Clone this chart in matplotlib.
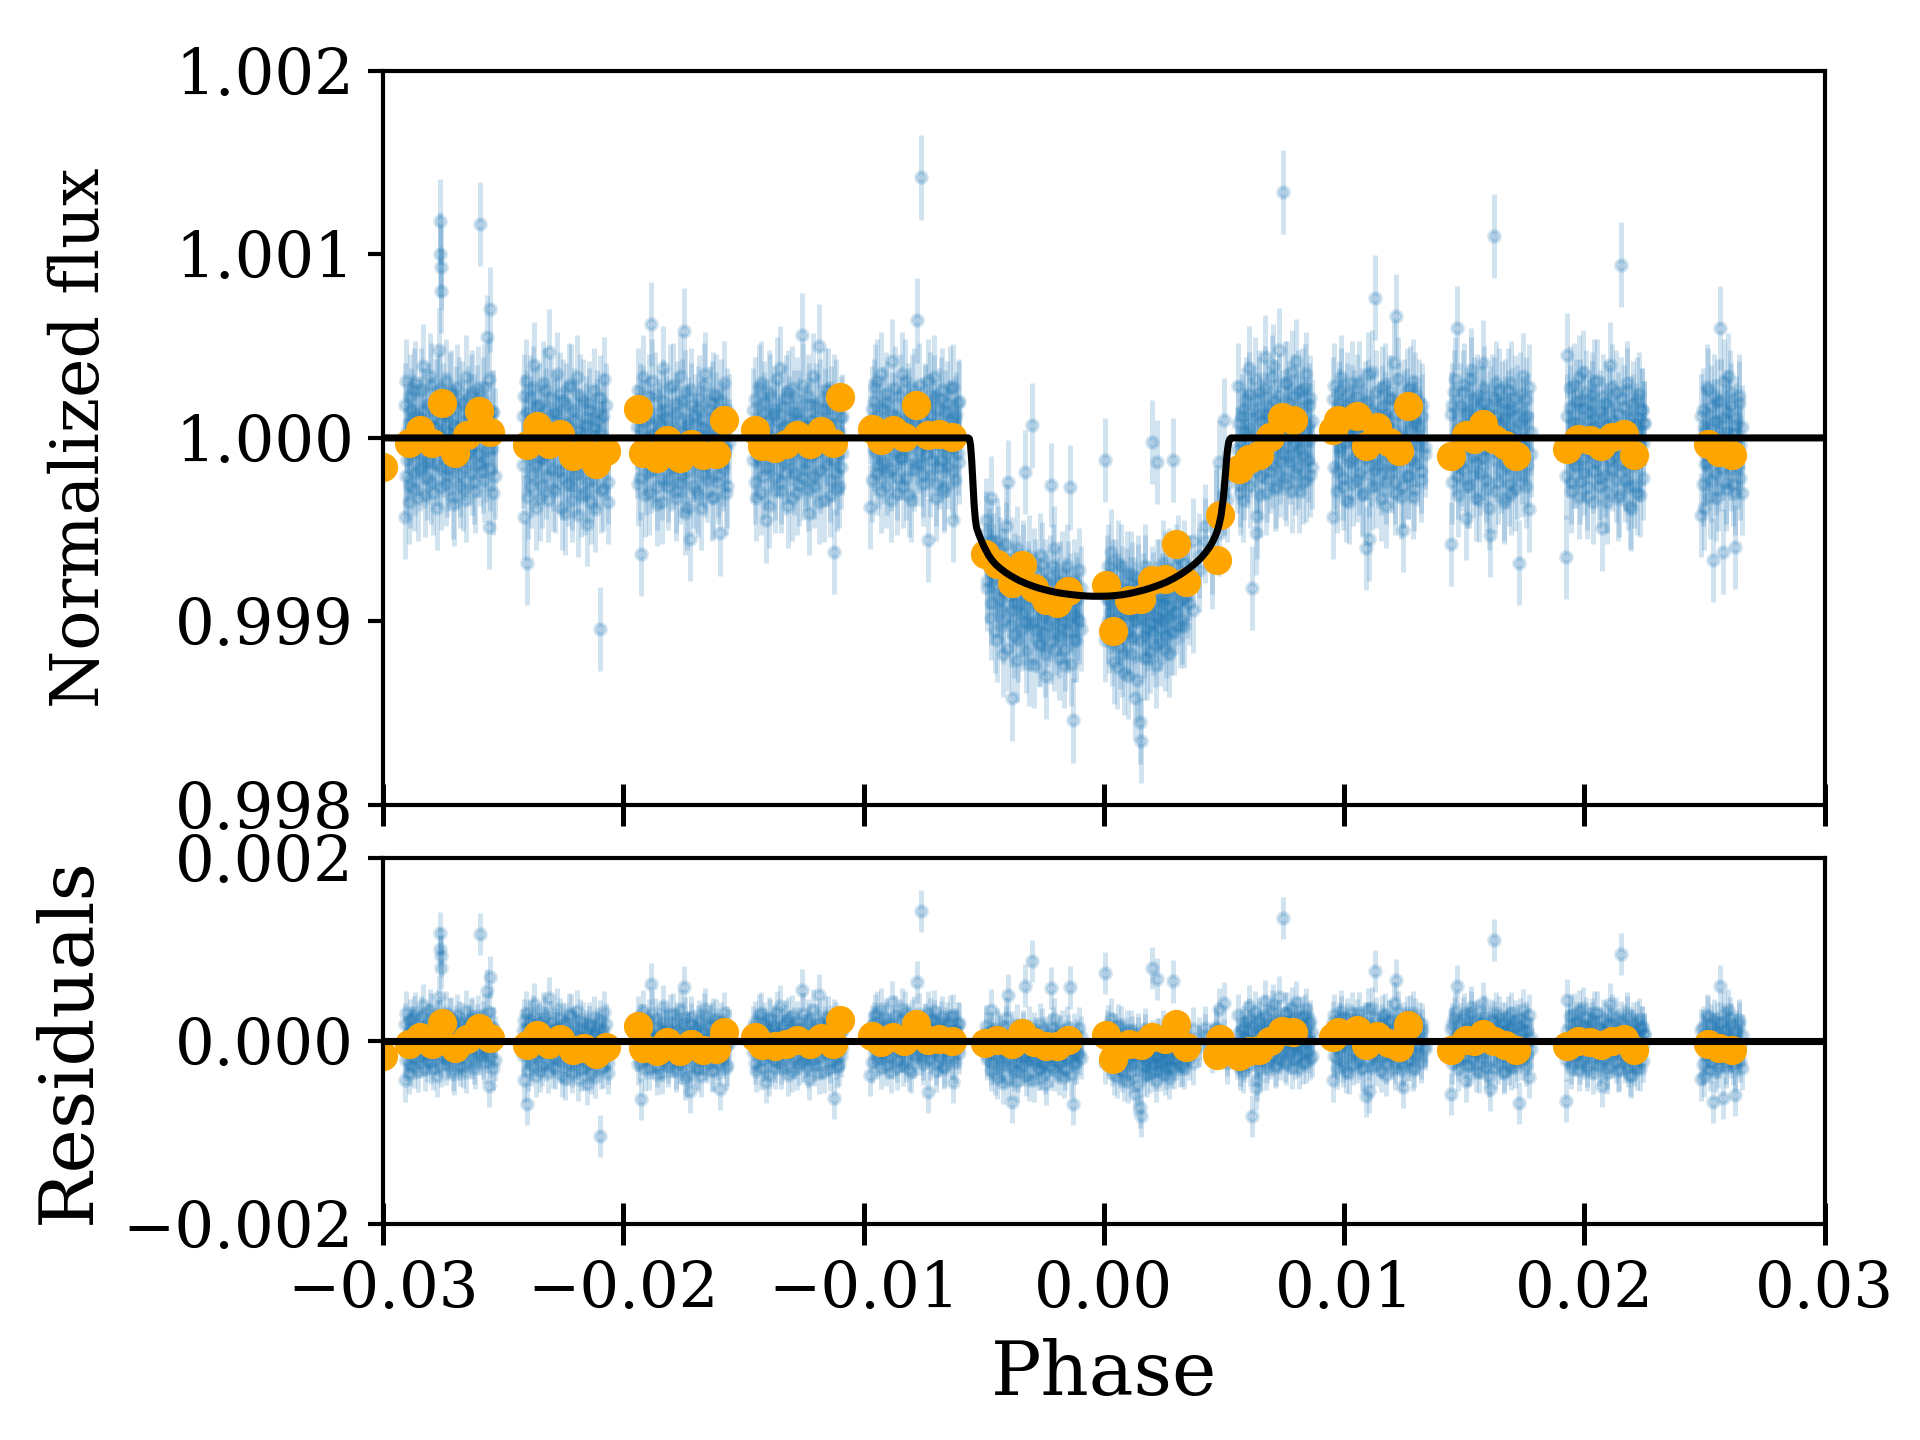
import numpy as np
import matplotlib.pyplot as plt
from matplotlib import ticker

plt.rcParams['font.family'] = 'serif'

# Phase in units of 1e-4, flux as ppm deviation from 1.
# Each phase list carries two flux readings (overlapping visits).
gA_ph = [-291, -290.5, -290, -289.4, -289, -288.3, -287.8, -287.2, -286.7, -286,
         -285.4, -284.9, -284.2, -283.6, -283, -282.5, -281.8, -281.2, -280.6, -280,
         -279.3, -278.8, -278.1, -277.5, -276.9, -276.4, -276.2, -276.0, -275.8, -275.3,
         -274.7, -274, -273.4, -272.9, -272.2, -271.6, -271, -270.5, -269.8, -269.2,
         -268.5, -268, -267.3, -266.7, -266.1, -265.5, -264.9, -264.2, -263.6, -263,
         -262.4, -261.7, -261.1, -260.5, -259.8, -259.2, -258.6, -258, -257.4, -256.8,
         -256.1, -255.5, -254.9, -254.2, -253.6]
gA_ppm = [-430, 310, -120, 80, -260, 150, -40, 260, -190, 20,
          -330, 110, -80, 390, -150, 40, -220, 180, -60, 290,
          -300, 60, -140, 220, 480, 1180, 1000, 930, 800, -90,
          130, -250, 30, -170, 240, -110, 70, -360, 160, -30,
          210, -200, 90, -280, 10, 330, -130, 120, -50, 250,
          -240, 20, 170, -90, 1165, 60, -180, 280, -120, 550,
          -486, 700, -60, 140, -210]
gA_ppm2 = [180, -210, 40, -350, 230, -90, 120, -280, 300, -60,
           90, -170, 260, -20, 150, -310, 70, -130, 340, -240,
           110, -50, 200, -380, 20, 260, -160, 90, -270, 180,
           -30, 310, -200, 130, -80, 250, -320, 60, -150, 280,
           -10, -260, 190, -110, 40, -340, 160, -70, 230, -190,
           120, -290, 50, 270, -140, 10, 210, -230, 80, -60,
           320, -170, 140, -300, 40]

gB_ph = [-241.8, -241.2, -240.6, -240, -239.6, -239, -238.4, -237.8, -237.1, -236.5,
         -235.9, -235.2, -234.6, -234, -233.3, -232.7, -232.1, -231.4, -230.8, -230.2,
         -229.5, -228.9, -228.3, -227.6, -227, -226.4, -225.7, -225.1, -224.5, -223.8,
         -223.2, -222.6, -221.9, -221.3, -220.7, -220, -219.4, -218.8, -218.1, -217.5,
         -216.9, -216.2, -215.6, -215, -214.3, -213.7, -213.1, -212.4, -211.8, -211.2,
         -210.5, -209.8, -209.2, -208.6, -207.9, -207.3, -206.6]
gB_ppm = [120, -430, 310, -683, -90, 220, -260, 60, 400, -150,
          -20, 180, -330, 90, -110, 260, -210, 30, 470, -70,
          -280, 140, -40, 350, -180, 10, -380, 200, -120, 80,
          -250, 290, -60, -340, 150, -200, 40, -420, 230, -130,
          -20, -300, 110, -470, 190, -90, -230, 60, -390, 140,
          -160, -1040, 20, -280, 320, -110, -350]
gB_ppm2 = [-150, 230, -60, 140, -320, 80, -200, 270, -30, -380,
           170, -110, 40, -260, 300, -90, 150, -340, 20, 210,
           -170, 90, -290, 130, -50, 240, -220, 60, -410, 180,
           -10, -150, 280, -270, 100, -60, 330, -190, 40, -310,
           200, -120, 70, -240, 150, -350, 10, 260, -180, 90,
           -70, 220, -290, 120, -30, 180, -240]

gC_ph = [-194.4, -193.8, -193.1, -192.5, -191.8, -191.2, -190.6, -189.9, -189.3, -188.6,
         -188, -187.3, -186.7, -186, -185.4, -184.7, -184.1, -183.4, -182.8, -182.1,
         -181.5, -180.8, -180.2, -179.5, -178.9, -178.2, -177.6, -176.9, -176.3, -175.6,
         -175, -174.7, -174.3, -173.7, -173, -172.4, -171.7, -171.1, -170.4, -169.8,
         -169.1, -168.5, -167.8, -167.2, -166.5, -165.9, -165.2, -164.6, -163.9, -163.3,
         -162.6, -162, -161.3, -160.7, -160, -159.4, -158.7, -158.1, -157.4, -156.8,
         -156.1]
gC_ppm = [60, -250, 180, -632, 330, -80, -190, 110, -300, 620,
          20, -140, 240, -360, 90, -40, -220, 380, -110, 150,
          -270, 40, -170, 290, -60, -330, 130, -20, -240, 200,
          -90, 585, -410, 70, -180, -550, 260, -120, 10, -290,
          160, -50, -380, 100, -150, 350, -230, 40, -100, 190,
          -320, -10, 230, -200, -520, 80, -140, 300, -60, -260,
          120]
gC_ppm2 = [-100, 260, -220, 50, 170, -310, 90, -40, 230, -180,
           310, -120, 20, -270, 140, 70, -350, 200, -60, 110,
           -230, 280, -10, -160, 60, -290, 190, -90, 340, -200,
           30, -130, 250, -380, 100, -50, 180, -260, 120, -10,
           -310, 220, -140, 60, 290, -200, 10, -90, 160, -330,
           240, -60, 130, -240, 40, 200, -170, 80, -300, 150,
           -20]

gD_ph = [-146, -145.3, -144.7, -144, -143.4, -142.7, -142.1, -141.4, -140.8, -140.1,
         -139.5, -138.8, -138.2, -137.5, -136.9, -136.2, -135.6, -134.9, -134.3, -133.6,
         -133, -132.3, -131.7, -131, -130.4, -129.7, -129.1, -128.4, -127.8, -127.1,
         -126.5, -125.8, -125.2, -124.5, -123.9, -123.2, -122.6, -121.9, -121.3, -120.6,
         -120, -119.3, -118.7, -118, -117.4, -116.7, -116.1, -115.4, -114.8, -114.1,
         -113.5, -112.8, -112.2, -111.5, -110.9, -110.2, -109.6, -108.9]
gD_ppm = [-120, 210, -330, 70, -40, 300, -210, 130, -450, 20,
          250, -160, -60, 160, -290, 90, -10, 380, -240, 50,
          -130, 220, -370, 110, -30, 270, -190, 0, -300, 140,
          -80, 560, -220, 60, -140, 230, -410, 100, -20, -260,
          180, -90, 500, -180, 30, -340, 150, -50, 260, -230,
          80, -120, -620, 200, -280, 40, -160, 120]
gD_ppm2 = [150, -240, 60, -110, 280, -300, 20, 190, -160, 90,
           -370, 230, -40, 130, -220, 320, -80, 10, -290, 170,
           60, -190, 250, -120, 40, -330, 140, -60, 210, -250,
           100, -20, 290, -170, 70, -280, 180, -100, 340, -210,
           -30, 120, -350, 200, -70, 30, 260, -140, 80, -310,
           160, -50, 230, -190, 10, -260, 110, -80]

gE_ph = [-97.2, -96.6, -95.9, -95.3, -94.6, -94, -93.3, -92.7, -92, -91.4,
         -90.7, -90.1, -89.4, -88.8, -88.1, -87.5, -86.8, -86.2, -85.5, -84.9,
         -84.2, -83.6, -82.9, -82.3, -81.6, -81, -80.3, -79.7, -79, -78.4,
         -77.7, -77.1, -76.3, -75.8, -75.1, -74.5, -73.8, -73.2, -72.5, -71.9,
         -71.2, -70.6, -69.9, -69.3, -68.6, -68, -67.3, -66.7, -66, -65.4,
         -64.7, -64.1, -63.4, -62.8, -62.1, -61.5, -60.8, -60.2]
gE_ppm = [-375, 160, -60, 280, -190, 90, -20, 350, -130, 40,
          -260, 190, 10, -170, 420, -80, 120, -300, 60, 230,
          -110, -30, 310, -220, 80, 150, -340, 20, 260, -140,
          640, -70, 1420, 100, -200, 180, -50, -556, 240, -120,
          30, 330, -250, 70, -160, 210, -40, -290, 140, -90,
          50, 270, -180, -446, 110, -20, 190, -130]
gE_ppm2 = [90, -230, 200, -80, 310, -150, 30, -290, 160, -40,
           240, -190, 70, -340, 130, -10, 270, -220, 50, -110,
           350, -260, 100, -60, 180, -310, 20, 230, -170, 80,
           -20, 290, -140, 60, -250, 170, -90, 310, -200, 120,
           -30, 220, -330, 40, 150, -120, 260, -270, 10, 190,
           -160, 90, -50, 280, -230, 130, -80, 200]

gF_ph = [-49.2, -48.5, -47.9, -47.2, -46.8, -46, -45.3, -44.7, -44, -43.4,
         -42.7, -42.1, -41.4, -40.8, -40.1, -39.5, -38.8, -38.2, -37.5, -36.9,
         -36.2, -35.6, -34.9, -34.3, -33.6, -33, -32.3, -31.7, -31, -30.5,
         -29.8, -29.1, -28.5, -27.8, -27.2, -26.5, -25.9, -25.2, -24.6, -23.9,
         -23.3, -22.6, -22, -21.3, -20.7, -20, -19.4, -18.7, -18.1, -17.4,
         -16.8, -16.1, -15.5, -14.8, -14.2, -13.5, -13, -12.3, -11.6, -11,
         -10.3, -9.7]
gF_ppm = [-520, -780, -610, -900, -330, -700, -1050, -560, -820, -660,
          -940, -1180, -720, -480, -240, -860, -1020, -1420, -750, -900,
          -600, -1100, -830, -960, -680, -186, -1010, -790, -1230, -880,
          68, -720, -1000, -850, -1120, -640, -930, -1060, -780, -1300,
          -870, -990, -258, -700, -1150, -900, -820, -1080, -960, -740,
          -1240, -880, -1010, -790, -270, -930, -1540, -1100, -850, -980,
          -720, -1040]
gF_ppm2 = [-450, -820, -700, -560, -980, -640, -760, -1100, -600, -880,
           -720, -1000, -830, -580, -1150, -790, -940, -660, -1080, -820,
           -1210, -760, -900, -1040, -700, -950, -1160, -830, -650, -1010,
           -900, -1240, -780, -1050, -880, -1130, -690, -960, -1180, -840,
           -1020, -760, -1110, -930, -600, -1060, -880, -1200, -790, -1000,
           -900, -1150, -700, -1050, -860, -1230, -960, -780, -1100, -880,
           -1000, -820]

gG_ph = [0.6, 1.1, 1.7, 2.3, 2.9, 3.5, 4.1, 4.7, 5.3, 5.9,
         6.5, 7.1, 7.7, 8.3, 8.9, 9.5, 10.1, 10.7, 11.3, 11.9,
         12.5, 13.1, 13.7, 14.3, 14.9, 15.5, 16.1, 16.7, 17.3, 17.9,
         18.5, 19.1, 19.9, 20.5, 21.1, 21.7, 22.2, 22.9, 23.5, 24.1,
         24.8, 25.4, 26, 26.7, 27.3, 28, 28.7, 29.3, 30, 30.7,
         31.5, 32.4, 33.3, 34.4, 35.6, 37, 39.5, 42.2, 44.8, 46.5,
         47.8, 49.8, 51.2]
gG_ppm = [-122, -760, -1000, -880, -620, -1120, -940, -780, -1250, -860,
          -1010, -700, -1180, -920, -1060, -830, -1300, -960, -740, -1090,
          -880, -1420, -990, -810, -1550, -1650, -930, -1080, -760, -1200,
          -900, -1010, -23, -850, -1130, -970, -131, -780, -1040, -900,
          -680, -1150, -870, -980, -720, -1060, -119, -830, -950, -650,
          -1024, -880, -1024, -760, -900, -560, -720, -480, -620, -400,
          -131, 95, -340]
gG_ppm2 = [-1100, -880, -700, -1050, -950, -780, -1220, -860, -1000, -680,
           -1140, -900, -820, -1280, -960, -740, -1060, -880, -1180, -800,
           -1000, -900, -1320, -760, -1100, -980, -860, -1200, -700, -1040,
           -940, -1160, -820, -1060, -900, -1240, -780, -980, -1120, -860,
           -1000, -740, -1080, -920, -1180, -800, -960, -1060, -700, -900,
           -820, -1000, -680, -860, -760, -940, -640, -560, -700, -380,
           -520, -300, -250]

gH_ph = [55.5, 56, 56.7, 57.3, 57.9, 58.5, 59.1, 59.7, 60.3, 60.9,
         61.5, 62.1, 62.7, 63.3, 63.9, 64.5, 65.1, 65.7, 66.3, 66.9,
         67.5, 68.1, 68.7, 69.3, 69.9, 70.5, 71.1, 71.7, 72.3, 72.9,
         73.5, 74.1, 74.6, 75.2, 75.8, 76.4, 77, 77.6, 78.2, 78.8,
         79.4, 80, 80.6, 81.2, 81.8, 82.4, 83, 83.6, 84.2, 84.8,
         85.4, 86, 86.6]
gH_ppm = [-60, 285, -258, 120, -340, 40, 210, -150, 380, -90,
          -818, 160, -40, -518, -428, 250, -210, 90, -20, 440,
          -300, 130, 20, -180, 330, -70, 200, -260, 60, 480,
          -130, 10, 1340, -220, 150, 300, -100, 70, -290, 230,
          -30, 420, -160, 110, -60, 260, -240, 40, 350, -120,
          180, -200, 90]
gH_ppm2 = [-180, 80, -300, -40, 150, -220, 30, -120, 240, -260,
           100, -60, 320, -180, 40, 210, -310, 130, -90, 270,
           -20, -230, 170, 60, -150, 390, -280, 90, -30, 230,
           -200, 140, -80, 300, -250, 50, 190, -130, 360, -40,
           -190, 120, 250, -290, 20, 170, -100, 280, -230, 70,
           -10, 220, -160]

gI_ph = [95.2, 95.8, 96.5, 97.1, 97.7, 98.3, 98.9, 99.5, 100.1, 100.7,
         101.3, 101.9, 102.5, 103.1, 103.7, 104.3, 104.9, 105.5, 106.1, 106.7,
         107.3, 107.9, 108.5, 109.2, 109.8, 110.4, 111, 111.6, 112.2, 112.8,
         113.4, 114, 114.6, 115.2, 115.8, 116.4, 117, 117.6, 118.2, 118.8,
         119.4, 120, 120.6, 121.2, 121.8, 122.4, 123, 123.6, 124.3, 124.9,
         125.5, 126.1, 126.7, 127.3, 127.9, 128.5, 129.1, 129.7, 130.3, 131,
         131.8, 132.6, 133.5]
gI_ppm = [-430, 285, 60, -180, 190, -50, 330, -270, 110, -20,
          240, -350, 70, 170, -110, 140, 20, -230, 300, -80,
          150, -300, 40, -601, 200, -550, -140, 360, -40, 765,
          -260, 30, 30, -190, 270, -90, 130, -370, 60, 220,
          -150, 10, 410, -240, 665, -60, 180, -320, -502, 140,
          -10, 260, -210, 50, -120, 310, -280, 80, -40, 200,
          -180, 120, -90]
gI_ppm2 = [210, -160, 40, -290, 150, -70, 260, -220, 90, -340,
           180, 10, -130, 300, -250, 60, -40, 230, -190, 120,
           -310, 70, 190, -110, 350, -200, 30, -270, 140, -60,
           250, -150, 80, -330, 170, -20, 290, -240, 100, -90,
           220, -180, 50, -300, 130, 320, -120, 10, -260, 200,
           -70, 150, -210, 270, -30, -320, 110, 240, -140, 60,
           -230, 180, -50]

gJ_ph = [144.5, 145.1, 145.7, 146.3, 147, 147.6, 148.2, 148.8, 149.4, 150,
         150.6, 151.2, 151.8, 152.4, 153, 153.6, 154.2, 154.8, 155.4, 156,
         156.6, 157.2, 157.8, 158.4, 159, 159.6, 160.2, 160.9, 161.5, 162.2,
         162.8, 163.4, 164, 164.6, 165.2, 165.8, 166.4, 167, 167.6, 168.2,
         168.8, 169.4, 170, 170.6, 171.2, 171.8, 172.7, 173.3, 173.9, 174.5,
         175.1, 175.7, 176.3, 177, 177.6]
gJ_ppm = [-577, 180, -80, 320, 598, -210, 60, -140, 250, -30,
          -436, 130, -260, 40, 370, -100, 210, -330, 10, 160,
          -190, 90, 410, -60, -280, 140, -20, -529, 230, 1100,
          -120, 300, -240, 70, -40, 190, -350, 110, -160, 260,
          20, -300, 150, -80, 220, -210, -680, 80, -130, 340,
          -50, -260, 120, -390, 30]
gJ_ppm2 = [130, -240, 250, -90, 40, -310, 180, -20, -170, 290,
           70, -260, 150, -50, 320, -200, 100, -130, 230, -340,
           30, 190, -110, 270, -230, 60, -380, 160, -70, 210,
           -290, 120, -10, 260, -180, 80, -330, 200, -40, 140,
           -250, 300, -120, 50, -280, 170, -60, 240, -200, 110,
           -30, 210, -150, 280, -90]

gK_ph = [192.2, 192.8, 193.4, 194, 194.6, 195.2, 195.8, 196.4, 197, 197.6,
         198.2, 198.8, 199.4, 200, 200.6, 201.2, 201.8, 202.4, 203, 203.6,
         204.2, 204.8, 205.4, 206, 206.6, 207.2, 207.8, 208.4, 209, 209.6,
         210.2, 210.8, 211.4, 212, 212.6, 213.2, 213.8, 214.4, 215.3, 215.9,
         216.5, 217.1, 217.7, 218.3, 218.9, 219.6, 220.2, 220.8, 221.4, 222,
         222.6, 223.2, 223.8, 224.4, 225]
gK_ppm = [-650, 450, -90, 170, -240, 30, 290, -150, 80, -320,
          200, -40, 360, -190, 10, -270, 140, -70, 240, -350,
          60, -130, 310, -20, -220, -493, 110, -60, 190, -290,
          20, 400, -170, 90, -100, 250, -330, 50, 945, -140,
          170, -230, 300, -50, -373, -387, 120, -260, 70, 210,
          -120, -310, 150, -30, 80]
gK_ppm2 = [-210, 120, -40, 270, -290, 80, -150, 200, -60, 330,
           -240, 30, 160, -110, 250, -320, 90, -20, 190, -180,
           310, -90, 50, -260, 140, -30, 230, -200, 70, -350,
           170, -120, 280, -60, 20, -230, 130, -310, 210, -80,
           60, -170, 260, -270, 110, -10, 190, -140, 40, -300,
           240, -90, 150, -220, 80]

gL_ph = [248.6, 249.2, 249.8, 250.4, 251, 251.6, 252.2, 252.8, 253.4, 254,
         254.6, 255.2, 255.8, 256.5, 257, 257.6, 258.2, 258.8, 259.4, 260,
         260.6, 261.2, 261.8, 262.6, 263.2, 263.8, 264.4, 265, 265.6]
gL_ppm = [-420, 150, -380, 40, -130, 260, -60, -230, -665, 90,
          -330, 200, -20, 598, -170, -620, 110, -280, 30, 340,
          -110, 180, -250, -593, 70, -160, 230, -40, -300]
gL_ppm2 = [120, -250, 60, -140, 280, -60, -320, 170, -10, 230,
           -190, 90, -280, 40, 200, -110, 310, -240, 140, -50,
           250, -170, 20, -300, 110, -80, 190, -220, 60]

flux_err = 0.00023

# binned points (orange)
bin_ph = [-300, -289.3, -284.6, -279.7, -275.5, -270.1, -265.2, -260.2, -255.5,
          -240.3, -235.8, -230.9, -226.4, -221.0, -216.3, -211.5, -207.2,
          -194.0, -191.7, -186.2, -181.8, -176.6, -171.7, -166.9, -161.4, -158.3,
          -145.1, -142.3, -136.8, -132.4, -127.8, -122.4, -117.6, -112.8, -109.9,
          -96.5, -92.8, -88.0, -83.4, -78.1, -73.4, -68.6, -63.3,
          -49.3, -44.3, -38.2, -34.1, -28.9, -24.0, -19.5, -15.1,
          0.8, 3.6, 10.5, 15.3, 20.1, 25.3, 30.1, 34.0, 47.0, 48.4,
          56.4, 60.2, 64.7, 69.1, 74.0, 78.8,
          95.4, 97.4, 105.4, 108.9, 113.7, 118.5, 123.0, 126.4,
          144.4, 150.6, 154.0, 157.9, 162.3, 167.1, 171.7,
          192.7, 197.2, 202.3, 206.9, 211.7, 216.6, 220.5,
          251.3, 256.2, 261.3]
bin_ppm = [-160, -28, 41, -28, 191, -82, 17, 144, 34,
           -41, 64, -35, 19, -100, -77, -140, -71,
           160, -80, -108, -10, -108, -35, -95, -86, 100,
           44, -46, -53, -32, 14, -35, 35, -28, 225,
           50, -10, 41, 5, 180, 14, 23, 5,
           -632, -686, -791, -692, -819, -882, -900, -837,
           -800, -1055, -882, -878, -773, -770, -578, -786, -668, -420,
           -167, -113, -95, 4, 113, 95,
           44, 99, 122, -46, 59, -23, -71, 176,
           -100, 14, -4, 77, -4, -41, -100,
           -59, -4, -14, -46, 4, 19, -95,
           -35, -77, -95]

# transit model curve
model_ph = [-300, -56.5, -56.0, -55.5, -55.0, -54.5, -54.0, -53.5, -53.0, -52.0,
            -51.0, -50.0, -49.0, -48.0, -46.5, -45.0, -43.0, -41.0, -39.0, -37.0,
            -35.0, -32.5, -30.0, -27.5, -25.0, -22.0, -19.0, -16.0, -13.0, -10.0,
            -7.0, -4.0, -1.0, 2.0, 5.0, 8.0, 11.0, 14.0, 17.0, 20.0,
            23.0, 26.0, 29.0, 32.0, 35.0, 37.5, 40.0, 42.0, 44.0, 45.5,
            47.0, 48.0, 48.8, 49.5, 50.0, 50.5, 51.0, 51.5, 52.0, 52.5,
            53.0, 300]
model_ppm = [0, 0, -5, -40, -130, -250, -370, -445, -490, -528,
             -560, -590, -615, -640, -668, -690, -713, -733, -750, -765,
             -779, -793, -806, -817, -826, -836, -844, -850, -855, -859,
             -862, -863, -863, -862, -859, -854, -847, -838, -828, -816,
             -802, -786, -766, -743, -716, -690, -660, -630, -595, -560,
             -515, -470, -420, -350, -290, -210, -130, -60, -20, -5,
             0, 0]

ph_groups = [gA_ph, gB_ph, gC_ph, gD_ph, gE_ph, gF_ph, gG_ph, gH_ph, gI_ph, gJ_ph, gK_ph, gL_ph]
ppm_groups = [gA_ppm, gB_ppm, gC_ppm, gD_ppm, gE_ppm, gF_ppm, gG_ppm, gH_ppm, gI_ppm, gJ_ppm, gK_ppm, gL_ppm]
ppm_groups2 = [gA_ppm2, gB_ppm2, gC_ppm2, gD_ppm2, gE_ppm2, gF_ppm2, gG_ppm2, gH_ppm2, gI_ppm2, gJ_ppm2, gK_ppm2, gL_ppm2]

phase = np.concatenate(ph_groups + ph_groups) * 1e-4
flux = 1 + np.concatenate(ppm_groups + ppm_groups2) * 1e-6
bphase = np.array(bin_ph) * 1e-4
bflux = 1 + np.array(bin_ppm) * 1e-6
mphase = np.array(model_ph) * 1e-4
mflux = 1 + np.array(model_ppm) * 1e-6

# residuals = data - model
resid = flux - np.interp(phase, mphase, mflux)
bresid = bflux - np.interp(bphase, mphase, mflux)

fig = plt.figure(figsize=(6.4, 4.8), dpi=300)
gs = fig.add_gridspec(2, 1, height_ratios=[2, 1], left=0.1996, right=0.9503,
                      top=0.9507, bottom=0.1497, hspace=0.0957)
ax1 = fig.add_subplot(gs[0])
ax2 = fig.add_subplot(gs[1], sharex=ax1)

ax1.errorbar(phase, flux, yerr=flux_err, fmt='o', ms=2.5, color='C0',
             alpha=0.2, elinewidth=1.2, zorder=1)
ax1.plot(bphase, bflux, 'o', color='orange', ms=6, zorder=2)
ax1.plot(mphase, mflux, color='k', lw=1.7, zorder=3)

ax2.errorbar(phase, resid, yerr=flux_err, fmt='o', ms=2.5, color='C0',
             alpha=0.2, elinewidth=1.2, zorder=1)
ax2.plot(bphase, bresid, 'o', color='orange', ms=6, zorder=2)
ax2.axhline(0, color='k', lw=1.7, zorder=3)

minus = lambda fmt: ticker.FuncFormatter(lambda v, p: (fmt % v).replace('-', '\u2212'))

ax1.set_xlim(-0.03, 0.03)
ax1.set_ylim(0.998, 1.002)
ax1.set_yticks([0.998, 0.999, 1.000, 1.001, 1.002])
ax1.yaxis.set_major_formatter(minus('%.3f'))
ax2.set_ylim(-0.002, 0.002)
ax2.set_yticks([-0.002, 0.0, 0.002])
ax2.yaxis.set_major_formatter(minus('%.3f'))
ax2.set_xticks([-0.03, -0.02, -0.01, 0.0, 0.01, 0.02, 0.03])
ax2.xaxis.set_major_formatter(minus('%.2f'))

for ax in (ax1, ax2):
    ax.tick_params(axis='x', direction='inout', length=10, width=1.2, labelsize=15)
    ax.tick_params(axis='y', direction='out', length=3.5, width=1.0, labelsize=15)
    for s in ax.spines.values():
        s.set_linewidth(1.0)
ax1.tick_params(axis='x', labelbottom=False)

ax1.set_ylabel('Normalized flux', fontsize=16, labelpad=15)
ax2.set_ylabel('Residuals', fontsize=18)
ax2.set_xlabel('Phase', fontsize=18)

fig.savefig('out.png', dpi=300)
